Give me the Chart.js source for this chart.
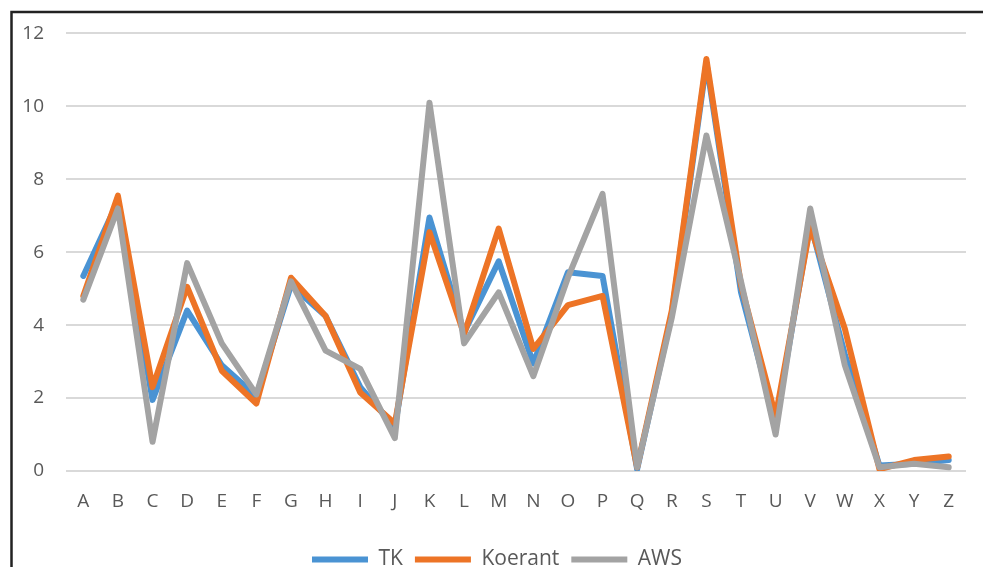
<!DOCTYPE html>
<html>
<head>
<meta charset="utf-8">
<script src="https://cdn.jsdelivr.net/npm/chart.js@4/dist/chart.umd.min.js"></script>
<style>
html,body{margin:0;padding:0;background:#fff;overflow:hidden;}
#wrap{width:983px;height:567px;position:relative;}
</style>
</head>
<body>
<div id="wrap"><canvas id="c" width="983" height="567"></canvas></div>
<script>
const categories = ["A","B","C","D","E","F","G","H","I","J","K","L","M","N","O","P","Q","R","S","T","U","V","W","X","Y","Z"];
const seriesNames = ["TK","Koerant","AWS"];
const tkValues      = [5.35,7.4,1.95,4.4,2.9,2.05,5.1,4.25,2.3,1.2,6.95,3.8,5.75,2.95,5.45,5.35,0.05,4.3,11.2,4.9,1.3,6.8,3.2,0.15,0.2,0.3];
const koerantValues = [4.8,7.55,2.3,5.05,2.75,1.85,5.3,4.25,2.15,1.3,6.55,3.75,6.65,3.35,4.55,4.8,0.1,4.4,11.3,5.1,1.5,6.7,3.9,0.05,0.3,0.4];
const awsValues     = [4.7,7.2,0.8,5.7,3.5,2.1,5.2,3.3,2.8,0.9,10.1,3.5,4.9,2.6,5.3,7.6,0.1,4.2,9.2,5.2,1.0,7.2,2.9,0.1,0.2,0.1];
const yTicks = [0,2,4,6,8,10,12];

const colors = ["#4A93D3","#ED7426","#A3A3A3"];
const FONT = "'Open Sans', Lato, sans-serif";

function ds(label, data, color, order){
  return {label, data, borderColor: color, backgroundColor: color, borderWidth: 6,
    pointRadius: 0, pointHoverRadius: 0, tension: 0, order,
    borderJoinStyle: 'round', borderCapStyle: 'round', fill: false};
}

const framePlugin = {
  id: 'frame',
  afterLayout(chart){
    const lg = chart.legend;
    if (lg) { lg.top += 13; lg.bottom += 13; lg.left += 14; lg.right += 14; }
  },
  beforeDraw(chart){
    const ctx = chart.ctx;
    ctx.save();
    ctx.fillStyle = '#fff';
    ctx.fillRect(0,0,chart.width,chart.height);
    ctx.strokeStyle = '#222';
    ctx.lineWidth = 2.5;
    ctx.beginPath();
    ctx.moveTo(11.5, chart.height + 5);
    ctx.lineTo(11.5, 12);
    ctx.lineTo(chart.width + 5, 12);
    ctx.stroke();
    ctx.restore();
  }
};

new Chart(document.getElementById('c'), {
  type: 'line',
  data: {
    labels: categories,
    datasets: [
      ds(seriesNames[0], tkValues, colors[0], 3),
      ds(seriesNames[1], koerantValues, colors[1], 2),
      ds(seriesNames[2], awsValues, colors[2], 1)
    ]
  },
  options: {
    responsive: false,
    animation: false,
    events: [],
    layout: { padding: { left: 0, right: 17, top: 31, bottom: 0 } },
    plugins: {
      legend: {
        position: 'bottom',
        labels: {
          usePointStyle: true,
          pointStyle: 'line',
          pointStyleWidth: 56,
          boxHeight: 6,
          padding: 12,
          color: '#595959',
          font: { family: FONT, size: 21 },
          sort: (a, b) => a.datasetIndex - b.datasetIndex
        }
      },
      tooltip: { enabled: false },
      title: { display: false }
    },
    scales: {
      x: {
        type: 'category',
        offset: true,
        grid: { display: false, drawTicks: false },
        border: { display: false },
        ticks: { color: '#595959', font: { family: FONT, size: 19 }, padding: 19, maxRotation: 0, autoSkip: false },
        afterFit(s){ s.height = 53; }
      },
      y: {
        min: 0, max: 12,
        afterBuildTicks(s){ s.ticks = yTicks.map(v => ({value: v})); },
        grid: { color: '#D9D9D9', lineWidth: 2, drawTicks: false },
        border: { display: false },
        ticks: { color: '#595959', font: { family: FONT, size: 19 }, padding: 22 },
        afterFit(s){ s.width = 66; }
      }
    }
  },
  plugins: [framePlugin]
});
</script>
</body>
</html>
